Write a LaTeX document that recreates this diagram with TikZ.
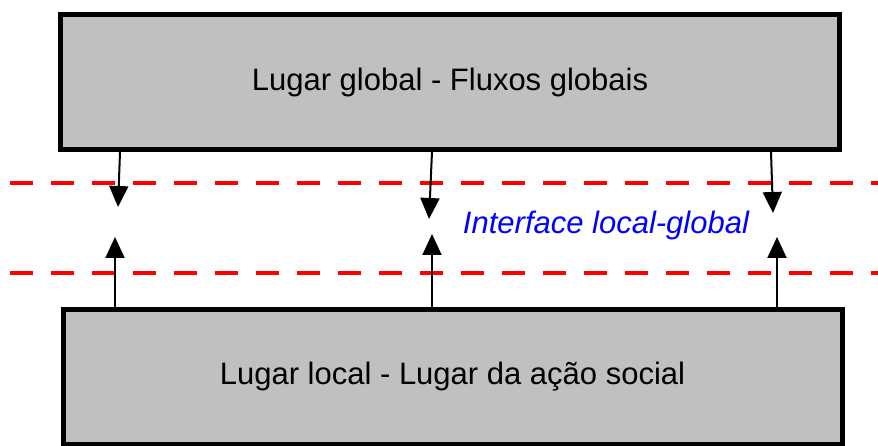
\documentclass[tikz,border=0pt]{standalone}
\usepackage{fontspec}
\setmainfont{Liberation Sans}
\usepackage{tikz}
\usetikzlibrary{arrows.meta, positioning}
\definecolor{boxgray}{HTML}{C0C0C0}
\tikzset{
    x=1pt, y=-1pt, % one unit is one pixel of the layout
    lugar/.style={draw, line width=5pt, fill=boxgray, minimum width=779pt, minimum height=135pt, font=\fontsize{31}{37}\selectfont}, % the two big boxes
    fluxo/.style={line width=2pt, -{Triangle[length=21pt, width=19pt]}}, % the short arrows
    fronteira/.style={red, line width=4.5pt, dash pattern=on 23pt off 18pt, dash phase=31pt}, % red dashed borders
}

\begin{document}
\begin{tikzpicture}
    \useasboundingbox (0,0) rectangle (878,446);
    \node[lugar] (global) at (450,82) {Lugar global - Fluxos globais};
    \node[lugar, below=155pt of global, xshift=2.5pt] (local) {Lugar local - Lugar da ação social};
    \node[blue, font=\fontsize{31}{37}\selectfont\itshape] (interface) at (606,225) {Interface local-global};
    % dashed lines of the interface
    \coordinate (l1) at (0,183);
    \coordinate (r1) at (878,183);
    \coordinate (l2) at (0,273);
    \coordinate (r2) at (878,273);
    \draw[fronteira] (l1) -- (r1);
    \draw[fronteira] (l2) -- (r2);
    % arrow tips
    \coordinate (d1) at (118,207);
    \coordinate (d2) at (429,219);
    \coordinate (d3) at (773,213);
    \coordinate (u1) at (115,237);
    \coordinate (u2) at (432,234);
    \coordinate (u3) at (777,237);
    \draw[fluxo] ([xshift=-330pt]global.south) -- (d1);
    \draw[fluxo] ([xshift=-18pt]global.south) -- (d2);
    \draw[fluxo] ([xshift=321pt]global.south) -- (d3);
    \draw[fluxo] ([xshift=-337.5pt]local.north) -- (u1);
    \draw[fluxo] ([xshift=-20.5pt]local.north) -- (u2);
    \draw[fluxo] ([xshift=324.5pt]local.north) -- (u3);
\end{tikzpicture}
\end{document}
